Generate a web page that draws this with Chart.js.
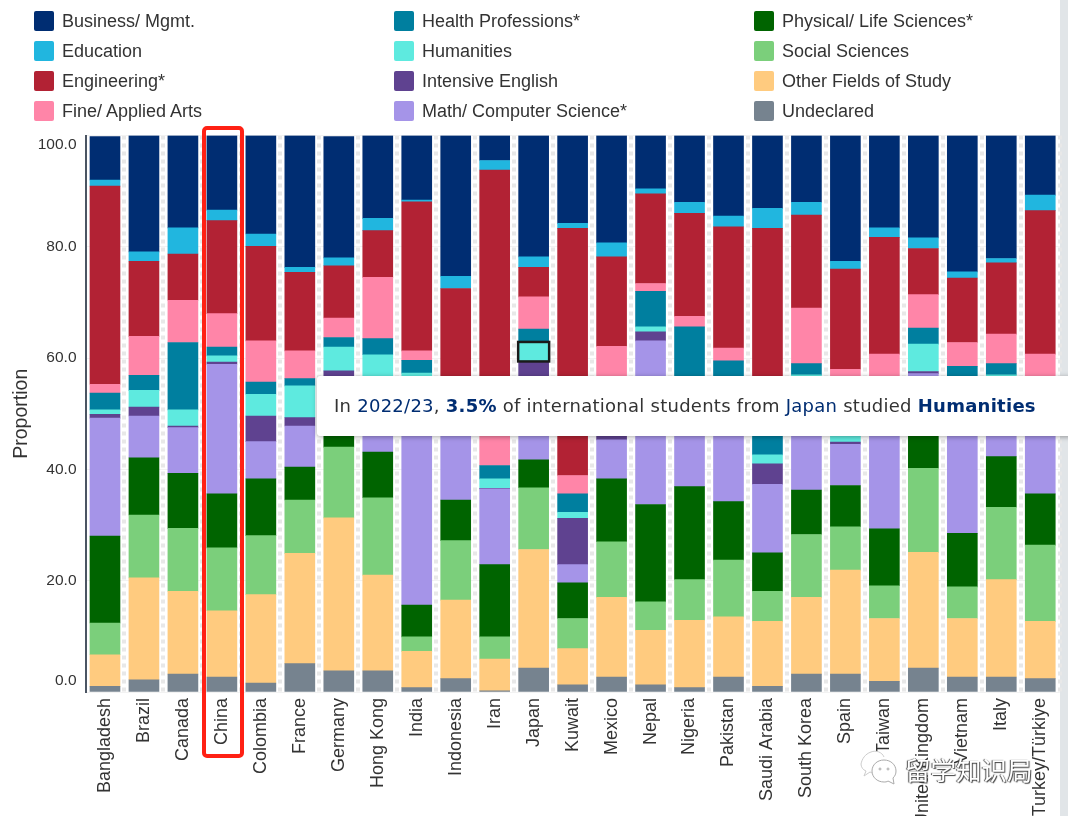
<!DOCTYPE html>
<html>
<head>
<meta charset="utf-8">
<script src="https://cdn.jsdelivr.net/npm/chart.js@4/dist/chart.umd.min.js"></script>
<style>
  html, body { margin: 0; padding: 0; width: 1068px; height: 816px; overflow: hidden; background: #fff; }
  #strip { position: absolute; left: 1060px; top: 0; width: 8px; height: 816px; background: #e1e5e8; }
  #myChart { position: absolute; left: 0; top: 0; }
  #legend { position: absolute; left: 34px; top: 6px; width: 1020px; display: grid; grid-template-rows: repeat(4, 30px); grid-auto-flow: column; grid-template-columns: repeat(3, 360px); font: 18px "Liberation Sans", Arial, sans-serif; color: #333; }
  #legend div { display: flex; align-items: center; }
  #legend span { display: inline-block; width: 20px; height: 20px; border-radius: 2px; margin-right: 8px; }
  #tip { position: absolute; left: 317px; top: 376px; width: 770px; height: 60px; background: #fff; border-radius: 3px; box-shadow: 0 1px 5px rgba(0,0,0,.35); font: 18px/59px "DejaVu Sans", sans-serif; letter-spacing: 0.26px; color: #333; white-space: nowrap; padding-left: 17px; box-sizing: border-box; }
  #tip i { font-style: normal; color: #002d72; }
  #tip b { color: #002d72; }
  #box { position: absolute; left: 202px; top: 126px; width: 42px; height: 632px; border: 4px solid #ff2114; border-radius: 5px; box-sizing: border-box; }
  #mark { position: absolute; left: 905px; top: 751px; font: 25.5px/36px "Noto Sans CJK SC", sans-serif; color: #fff; text-shadow: -1px 0 1px #444, 1px 1px 1px #444; white-space: nowrap; }
  #wechat { position: absolute; left: 860px; top: 750px; }
</style>
</head>
<body>
<div id="strip"></div>
<canvas id="myChart" width="1068" height="830"></canvas>
<div id="legend"></div>
<div id="box"></div>
<div id="tip"></div>
<svg id="wechat" width="44" height="40" fill="#fff" stroke="#aaa" stroke-width="1">
  <path d="M24 7c-2-5-8-7-13-5C5 4 2 9 1 14c0 3 2 6 5 7l-2 5 6-4c2 1 3 1 4 1" stroke="#ccc"/>
  <path d="M24 10c-7 0-12 5-12 11s5 11 12 11c1 0 3 0 4-1l6 3-1-6c2-2 3-4 3-7 0-6-5-11-12-11z"/>
  <circle cx="20" cy="19" r="1"/><circle cx="28" cy="19" r="1"/>
</svg>
<div id="mark">留学知识局</div>
<script>
const countries = ["Bangladesh","Brazil","Canada","China","Colombia","France","Germany","Hong Kong","India","Indonesia","Iran","Japan","Kuwait","Mexico","Nepal","Nigeria","Pakistan","Saudi Arabia","South Korea","Spain","Taiwan","United Kingdom","Vietnam","Italy","Turkey/Türkiye"];
const yTicks = [0, 20, 40, 60, 80, 100];

// values, anything behind the tooltip is a guess
const business = [7.8,20.9,16.6,13.4,17.7,23.7,21.8,14.9,11.6,25.3,4.5,21.8,15.8,19.3,9.6,12,14.5,13.1,12,22.6,16.6,18.4,24.5,22.1,10.7];
const education = [1.1,1.7,4.7,1.9,2.2,0.9,1.4,2.2,0.3,2.2,1.7,1.9,0.9,2.5,0.9,2,1.9,3.6,2.3,1.4,1.7,1.9,1.1,0.8,2.8];
const engineering = [35.6,13.5,8.3,16.7,17,14.1,9.4,8.4,26.8,18,46.8,5.3,44.4,16.1,16.1,18.5,21.8,33.3,16.7,18,21,8.3,11.6,12.8,25.8];
const fineArts = [1.6,7,7.6,6,7.4,5,3.5,11,1.7,3,6.3,5.8,3.3,7.1,1.4,1.9,2.3,3,10,5,4.7,6,4.3,5.3,4.7];
const health = [3,2.7,12.1,1.6,2.2,1.3,1.7,2.9,2.3,2,2.4,2.3,3.3,5,6.4,11.1,3.5,4.4,2,7,3,2.9,2,2,2.5];
const humanities = [0.8,3,2.9,1.1,3.9,5.7,4.3,4,0.8,2,1.7,3.5,1.1,3.5,0.9,1,1.5,1.6,2.5,1.1,2.5,4.9,1,2.5,2];
const intensive = [0.7,1.6,0.3,0.4,4.6,1.5,1,1.5,0.4,0.5,0.1,3.7,8.3,1.2,1.6,0.5,0.5,3.7,0.5,0.4,0.5,0.4,0.5,0.5,0.5];
const mathCs = [21.2,7.5,8.2,23.3,6.7,7.4,9.7,12,40.5,12.5,13.6,14,3.3,7,29.4,16.1,19.8,12.3,17.7,7.4,20.7,9,26.5,11.7,15.4];
const physical = [15.6,10.3,9.9,9.7,10.2,5.9,3,8.2,5.7,7.3,13,5,6.4,11.3,17.5,16.7,10.5,6.9,8,7.4,10.2,8,9.6,9.1,9.2];
const social = [5.7,11.3,11.3,11.3,10.6,9.6,12.7,13.9,2.6,10.7,4,11.1,5.4,10,5.1,7.3,10.2,5.4,11.3,7.8,5.9,15.1,5.7,13,13.7];
const otherFields = [5.7,18.3,14.9,11.9,15.9,19.8,27.5,17.2,6.5,14.1,5.7,21.3,6.5,14.3,9.8,12.1,10.8,11.7,13.8,18.7,11.3,20.8,10.5,17.5,10.3];
const undeclared = [1,2.2,3.2,2.7,1.6,5.1,3.8,3.8,0.8,2.4,0.2,4.3,1.3,2.7,1.3,0.8,2.7,1,3.2,3.2,1.9,4.3,2.7,2.7,2.4];

const fields = [
  { name: "Business/ Mgmt.", color: "#002d72", values: business },
  { name: "Education", color: "#21b6df", values: education },
  { name: "Engineering*", color: "#b22234", values: engineering },
  { name: "Fine/ Applied Arts", color: "#ff85a8", values: fineArts },
  { name: "Health Professions*", color: "#007f9f", values: health },
  { name: "Humanities", color: "#5eeadf", values: humanities },
  { name: "Intensive English", color: "#5f4290", values: intensive },
  { name: "Math/ Computer Science*", color: "#a594e8", values: mathCs },
  { name: "Physical/ Life Sciences*", color: "#006400", values: physical },
  { name: "Social Sciences", color: "#7bcf7b", values: social },
  { name: "Other Fields of Study", color: "#ffcb7f", values: otherFields },
  { name: "Undeclared", color: "#76838f", values: undeclared },
];

const activeCountry = "Japan";
const activeField = "Humanities";

document.getElementById("legend").innerHTML = fields
  .map((f) => `<div><span style="background:${f.color}"></span>${f.name}</div>`)
  .join("");

const activeIndex = countries.indexOf(activeCountry);
document.getElementById("tip").innerHTML =
  `In <i>2022/23</i>, <b>${humanities[activeIndex]}%</b> of international students from <i>${activeCountry}</i> studied <b>${activeField}</b>`;

// undeclared sits at the bottom of the stack, business at the top
const datasets = [...fields].reverse().map((f) => ({
  label: f.name,
  data: f.values,
  backgroundColor: f.color,
  barThickness: 30,
  borderWidth: 0,
}));

// black outline around the hovered cell, just outside the bar
const activeOutline = {
  id: "activeOutline",
  afterDatasetsDraw(chart) {
    const di = datasets.findIndex((d) => d.label === activeField);
    const bar = chart.getDatasetMeta(di).data[activeIndex];
    const ctx = chart.ctx;
    ctx.save();
    ctx.strokeStyle = "#1a1a1a";
    ctx.lineWidth = 2.5;
    ctx.strokeRect(bar.x - bar.width / 2 - 0.5, bar.y, bar.width + 1, bar.base - bar.y);
    ctx.restore();
  },
};

new Chart(document.getElementById("myChart"), {
  type: "bar",
  data: { labels: countries, datasets: datasets },
  plugins: [activeOutline],
  options: {
    responsive: false,
    animation: false,
    events: [],
    layout: { padding: { top: 135.5, right: 7.5, left: 0, bottom: 0 } },
    plugins: { legend: { display: false }, tooltip: { enabled: false } },
    scales: {
      x: {
        stacked: true,
        offset: true,
        afterFit: (s) => { s.height = 138; },
        grid: {
          offset: true,
          color: (c) => (c.index === 0 || c.index >= countries.length ? "transparent" : "#e8e8e8"),
          lineWidth: 4,
          drawTicks: false,
        },
        border: { display: false, dash: [4, 4] },
        ticks: {
          autoSkip: false,
          minRotation: 90,
          maxRotation: 90,
          padding: 6,
          color: "#333",
          font: { family: "Liberation Sans", size: 18 },
        },
      },
      y: {
        stacked: true,
        min: 0,
        max: 100,
        afterBuildTicks: (s) => { s.ticks = yTicks.map((v) => ({ value: v })); },
        afterFit: (s) => { s.width = 85.5; },
        title: {
          display: true,
          text: "Proportion",
          color: "#333",
          font: { family: "Liberation Sans", size: 19.5 },
          padding: { top: 10, bottom: 0 },
        },
        grid: { color: "#f2f2f2", drawTicks: false },
        border: { color: "#4b5563", width: 2 },
        ticks: {
          padding: 9,
          color: "#333",
          // zero label sits a little higher than the blank line alone gives
          font: (c) => ({
            family: "Liberation Sans",
            size: 15.5,
            lineHeight: c.tick && c.tick.value === 0 ? 1.5 : 1.2,
          }),
          // end labels are pushed inside the plot, a blank line does that
          callback: (v) => {
            const text = v.toFixed(1);
            if (v === 100) return ["", text];
            if (v === 0) return [text, ""];
            return text;
          },
        },
      },
    },
  },
});
</script>
</body>
</html>
